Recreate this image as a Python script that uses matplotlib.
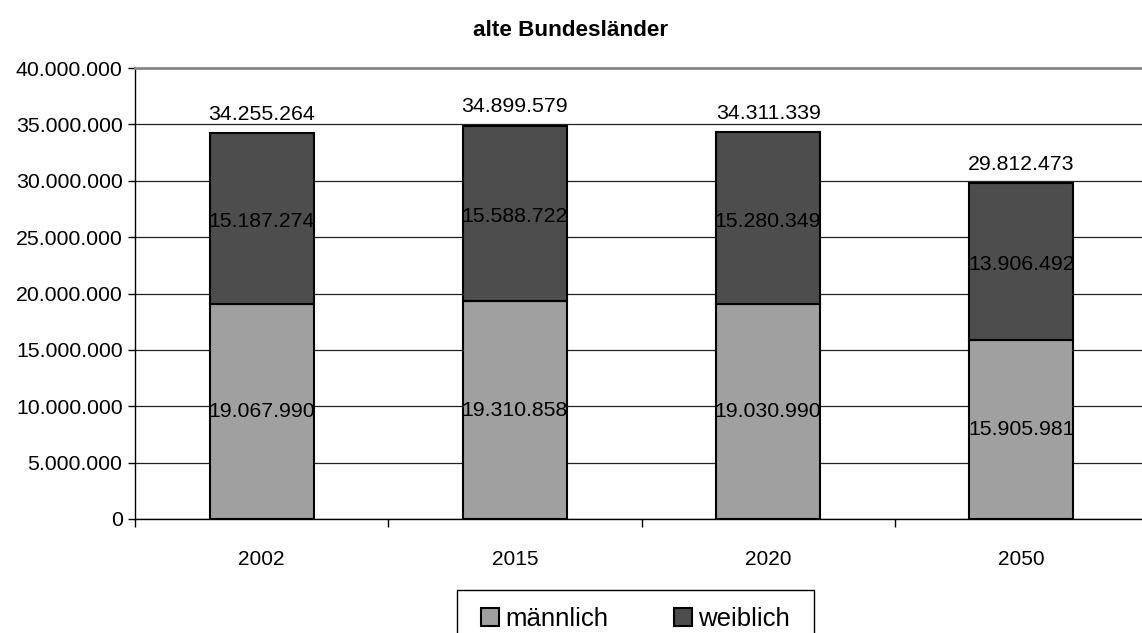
import numpy as np
import matplotlib
matplotlib.use('Agg')
import matplotlib.pyplot as plt
from matplotlib.patches import Patch, Rectangle

plt.rcParams['font.family'] = ['Liberation Sans', 'DejaVu Sans']

# Daten
jahre = ['2002', '2015', '2020', '2050']
maennlich = [19067990, 19310858, 19030990, 15905981]
weiblich = [15187274, 15588722, 15280349, 13906492]
gesamt = [34255264, 34899579, 34311339, 29812473]

farbe_m = '#a0a0a0'
farbe_w = '#4d4d4d'


def fmt(v):
    return f"{v:,}".replace(",", ".")


W, H = 1142, 633
fig = plt.figure(figsize=(W / 100, H / 100), dpi=100)
ax = fig.add_axes([135 / W, 1 - 519 / H, 1013 / W, 451 / H])

x = np.arange(len(jahre))
breite = 0.41
ax.bar(x, maennlich, breite, color=farbe_m, edgecolor='black', linewidth=1.5, zorder=3)
ax.bar(x, weiblich, breite, bottom=maennlich, color=farbe_w, edgecolor='black',
       linewidth=1.5, zorder=3)

# Beschriftungen
for i in range(len(jahre)):
    ax.text(x[i], maennlich[i] / 2, fmt(maennlich[i]), ha='center', va='center',
            fontsize=15.3, zorder=4)
    ax.text(x[i], maennlich[i] + weiblich[i] / 2 - 300000, fmt(weiblich[i]), ha='center',
            va='center', fontsize=15.3, zorder=4)
    ax.text(x[i], gesamt[i] + 800000, fmt(gesamt[i]), ha='center', va='bottom',
            fontsize=15.3, zorder=4)

ax.set_xlim(-0.5, len(jahre) - 0.5)
ax.set_ylim(0, 40000000)
yt = np.arange(0, 40000001, 5000000)
ax.set_yticks(yt)
ax.set_yticklabels([fmt(int(v)) for v in yt], fontsize=15.3)
ax.yaxis.grid(True, color='#222222', linewidth=0.9, zorder=0)

ax.set_xticks(x)
ax.set_xticklabels(jahre, fontsize=15)
ax.tick_params(axis='x', length=0, pad=22)
ax.set_xticks(np.arange(-0.5, len(jahre)), minor=True)
ax.tick_params(axis='x', which='minor', length=6, width=1, direction='out')
ax.tick_params(axis='y', length=5, width=1, direction='out', pad=4)

for s in ['left', 'bottom']:
    ax.spines[s].set_color('black')
    ax.spines[s].set_linewidth(1)
ax.spines['right'].set_visible(False)
ax.spines['top'].set_color('#888888')
ax.spines['top'].set_linewidth(2)

fig.text(0.5, 1 - 30 / H, 'alte Bundesländer', ha='center', va='center',
         fontsize=16.2, fontweight='bold')

# Legende (Rahmen separat, unten abgeschnitten wie im Original)
fig.add_artist(Rectangle((457 / W, -0.1), (814 - 457) / W, 1 - 590 / H + 0.1,
                         transform=fig.transFigure, fill=False, edgecolor='black',
                         linewidth=1))
handles = [Patch(facecolor=farbe_m, edgecolor='black', linewidth=1.5, label='männlich'),
           Patch(facecolor=farbe_w, edgecolor='black', linewidth=1.5, label='weiblich')]
fig.legend(handles=handles, loc='upper left', bbox_to_anchor=(481 / W, 1 - 607 / H),
           ncol=2, fontsize=18.5, frameon=False, borderpad=0, borderaxespad=0,
           handlelength=0.7, handleheight=0.7, handletextpad=0.25,
           columnspacing=2.55)

fig.savefig('out.png', dpi=100)
